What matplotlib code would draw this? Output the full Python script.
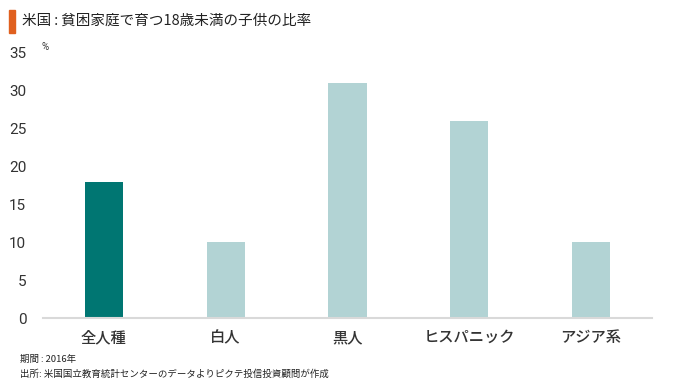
import matplotlib.pyplot as plt
from matplotlib.patches import Rectangle

plt.rcParams['font.family'] = ['Noto Sans CJK JP', 'DejaVu Sans']

# データ
categories = ['全人種', '白人', '黒人', 'ヒスパニック', 'アジア系']
values = [18, 10, 31, 26, 10]
colors = ['#007672', '#b2d3d4', '#b2d3d4', '#b2d3d4', '#b2d3d4']
yticks = [0, 5, 10, 15, 20, 25, 30, 35]

fig = plt.figure(figsize=(6.8, 3.87), dpi=100)
ax = fig.add_axes([43 / 680, 1 - 318 / 387, 609 / 680, 265 / 387])

ax.bar(range(len(categories)), values, width=0.315, color=colors)
ax.set_xlim(-0.5, len(categories) - 0.5)
ax.set_ylim(0, 35)
ax.set_yticks(yticks)
ax.set_xticks(range(len(categories)))
ax.set_xticklabels(categories, fontsize=11, color='#333333', fontweight='medium')

for s in ['top', 'right', 'left']:
    ax.spines[s].set_visible(False)
ax.spines['bottom'].set_color('#d9d9d9')
ax.spines['bottom'].set_linewidth(1.5)
ax.tick_params(axis='x', length=0, pad=8)
ax.tick_params(axis='y', length=0, pad=12, labelsize=11, labelcolor='#333333')
for lbl in ax.get_yticklabels():
    lbl.set_fontfamily('Roboto')

# 単位
fig.text(41 / 680, 1 - 50 / 387, '%', fontsize=7, color='#333333', family='Roboto')

# タイトル
fig.patches.append(Rectangle((9 / 680, 1 - 33 / 387), 6 / 680, 23 / 387,
                             transform=fig.transFigure, color='#e0601f'))
fig.text(22 / 680, 1 - 21 / 387, '米国\u2009:\u2009貧困家庭で育つ18歳未満の子供の比率',
         fontsize=10.5, va='center', color='#222222')

# 注記
fig.text(20 / 680, 1 - 359 / 387, '期間\u2009:\u20092016年', fontsize=6.8, va='center', color='#222222')
fig.text(20 / 680, 1 - 374 / 387, '出所: 米国国立教育統計センターのデータよりピクテ投信投資顧問が作成',
         fontsize=6.8, va='center', color='#222222')

fig.savefig('out.png', dpi=100)
